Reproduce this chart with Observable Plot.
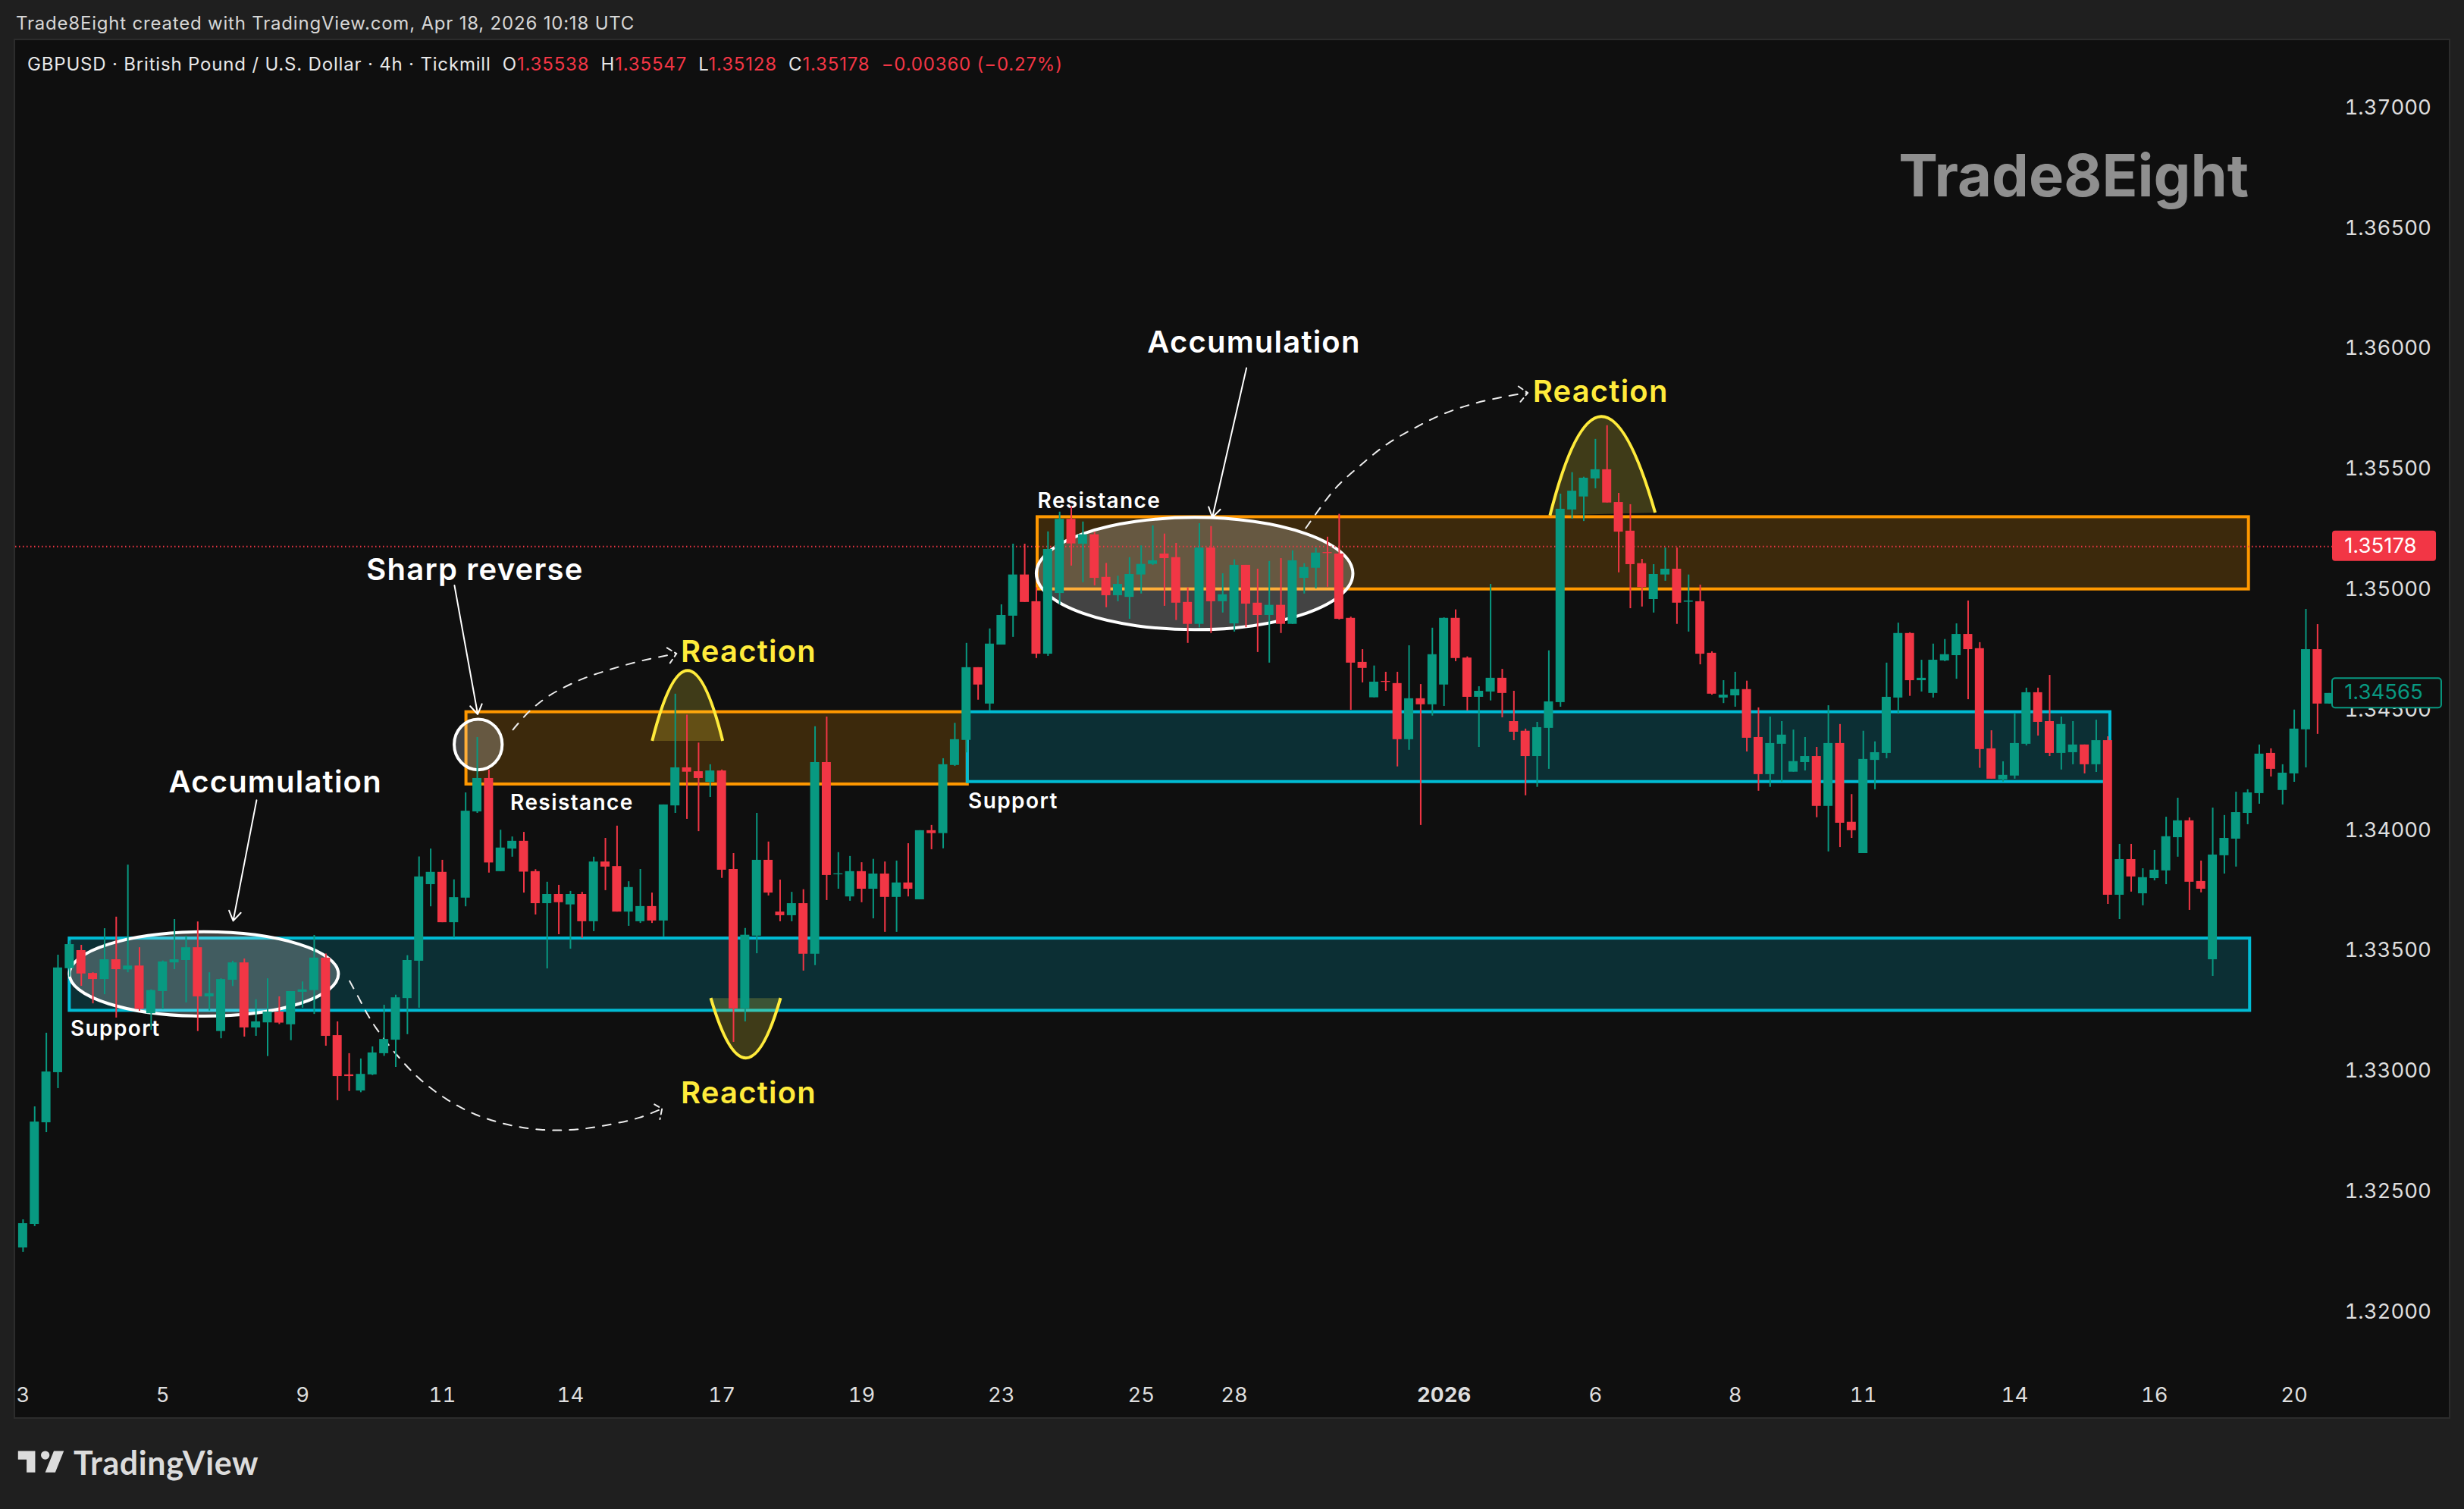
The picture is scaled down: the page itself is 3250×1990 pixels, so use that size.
<!DOCTYPE html>
<html>
<head>
<meta charset="utf-8">
<script src="https://cdn.jsdelivr.net/npm/d3@7"></script>
<script src="https://cdn.jsdelivr.net/npm/@observablehq/plot@0.6"></script>
<style>
  html, body { margin: 0; padding: 0; background: #1f1f1f; }
  #page { position: relative; width: 3250px; height: 1990px; overflow: hidden; background: #1f1f1f; font-family: Inter, "Noto Sans", sans-serif; }
  #attribution { position: absolute; left: 21px; top: 16px; font-size: 24px; letter-spacing: 0.8px; color: #d6d6d6; white-space: pre; }
  #chart { position: absolute; left: 20px; top: 53px; }
  #chart svg { display: block; outline: 2px solid #2c2c2c; }
  #legend { position: absolute; left: 36px; top: 70px; font-size: 24px; letter-spacing: 0.82px; color: #e8e8e8; white-space: pre; }
  #legend .r { color: #f23645; }
  #brand { position: absolute; left: 20px; top: 1902px; display: flex; align-items: center; color: #dcdcdc; }
  #brand span { font-family: Lato, Inter, sans-serif; font-weight: 700; font-size: 43px; letter-spacing: 0.6px; margin-left: 9px; line-height: 53px; }
  .spaced-big text { letter-spacing: 1.2px; }
  .spaced-small text { letter-spacing: 1.4px; }
</style>
</head>
<body>
<div id="page">
  <div id="attribution">Trade8Eight created with TradingView.com, Apr 18, 2026 10:18 UTC</div>
  <div id="chart"></div>
  <div id="legend">GBPUSD · British Pound / U.S. Dollar · 4h · Tickmill  O<span class="r">1.35538</span>  H<span class="r">1.35547</span>  L<span class="r">1.35128</span>  C<span class="r">1.35178</span>  <span class="r">−0.00360 (−0.27%)</span></div>
  <div id="brand">
    <svg width="68" height="53" viewBox="0 0 36 28"><path fill="#dcdcdc" d="M14 6H2v6h6v9h6V6Zm14 15h-7l6-15h7l-6 15Zm-7-9a3 3 0 1 0 0-6 3 3 0 0 0 0 6Z"/></svg>
    <span>TradingView</span>
  </div>
</div>
<script>
// ---- candle series (GBPUSD 4h), one entry per bar ----
const opens = [1.32265,1.32363,1.32785,1.32993,1.33425,1.33500,1.33405,1.33380,1.33462,1.33420,1.33436,1.33238,1.33330,1.33449,1.33459,1.33512,1.33308,1.33164,1.33377,1.33449,1.33179,1.33200,1.33245,1.33192,1.33327,1.33334,1.33469,1.33147,1.32984,1.32917,1.32984,1.33072,1.33128,1.33301,1.33456,1.33774,1.33825,1.33616,1.33718,1.34076,1.34215,1.33828,1.33922,1.33954,1.33828,1.33695,1.33733,1.33690,1.33733,1.33620,1.33868,1.33849,1.33660,1.33620,1.33683,1.33623,1.34101,1.34259,1.34243,1.34199,1.34246,1.33837,1.33258,1.33560,1.33875,1.33660,1.33645,1.33695,1.33485,1.34281,1.33815,1.33723,1.33828,1.33755,1.33818,1.33721,1.33781,1.33711,1.33998,1.33986,1.34269,1.34373,1.34675,1.34524,1.34769,1.34889,1.35060,1.34949,1.34731,1.34983,1.35291,1.35188,1.35227,1.35050,1.34974,1.34967,1.35060,1.35104,1.35147,1.35132,1.34946,1.34855,1.35172,1.34949,1.34857,1.35100,1.34943,1.34892,1.34934,1.34855,1.35046,1.35088,1.35153,1.35147,1.34880,1.34697,1.34550,1.34618,1.34609,1.34376,1.34546,1.34521,1.34603,1.34880,1.34715,1.34552,1.34574,1.34631,1.34451,1.34411,1.34306,1.34423,1.34530,1.35330,1.35384,1.35459,1.35497,1.35361,1.35242,1.35107,1.34958,1.35060,1.35084,1.34947,1.34949,1.34735,1.34549,1.34558,1.34584,1.34385,1.34231,1.34357,1.34241,1.34281,1.34306,1.34099,1.34360,1.34033,1.33903,1.34290,1.34319,1.34549,1.34817,1.34621,1.34568,1.34703,1.34725,1.34813,1.34754,1.34338,1.34209,1.34225,1.34357,1.34571,1.34451,1.34319,1.34322,1.34354,1.34272,1.34372,1.33730,1.33878,1.33736,1.33799,1.33831,1.33969,1.34039,1.33787,1.33462,1.33894,1.33963,1.34070,1.34152,1.34319,1.34165,1.34234,1.34417,1.34750,1.34524];
const highs = [1.32382,1.32851,1.33157,1.33481,1.33540,1.33522,1.33408,1.33591,1.33639,1.33855,1.33512,1.33337,1.33457,1.33629,1.33560,1.33619,1.33408,1.33383,1.33456,1.33465,1.33296,1.33383,1.33308,1.33330,1.33370,1.33563,1.33486,1.33204,1.33072,1.33050,1.33100,1.33273,1.33315,1.33479,1.33889,1.33922,1.33875,1.33794,1.34155,1.34385,1.34250,1.34000,1.33972,1.33991,1.33836,1.33784,1.33771,1.33746,1.33742,1.33888,1.33966,1.34017,1.33786,1.33837,1.33739,1.34105,1.34565,1.34478,1.34362,1.34272,1.34250,1.33903,1.33592,1.34070,1.33951,1.33793,1.33742,1.33753,1.34430,1.34470,1.33907,1.33891,1.33865,1.33879,1.33868,1.33872,1.33944,1.33998,1.34020,1.34297,1.34444,1.34776,1.34675,1.34836,1.34936,1.35188,1.35188,1.35007,1.35239,1.35321,1.35344,1.35280,1.35237,1.35108,1.35055,1.35132,1.35181,1.35264,1.35230,1.35191,1.35007,1.35273,1.35261,1.35065,1.35123,1.35100,1.35084,1.35116,1.35128,1.35160,1.35107,1.35172,1.35217,1.35312,1.34885,1.34750,1.34682,1.34656,1.34656,1.34766,1.34605,1.34839,1.34882,1.34915,1.34720,1.34596,1.35021,1.34668,1.34577,1.34420,1.34448,1.34745,1.35396,1.35485,1.35466,1.35623,1.35680,1.35399,1.35352,1.35125,1.35103,1.35172,1.35172,1.35060,1.35018,1.34741,1.34621,1.34656,1.34619,1.34508,1.34470,1.34451,1.34416,1.34385,1.34344,1.34517,1.34439,1.34148,1.34411,1.34367,1.34694,1.34860,1.34820,1.34706,1.34773,1.34792,1.34857,1.34952,1.34779,1.34413,1.34284,1.34483,1.34590,1.34590,1.34643,1.34470,1.34451,1.34354,1.34457,1.34388,1.33941,1.33941,1.33840,1.33916,1.34054,1.34133,1.34051,1.33872,1.34092,1.34061,1.34158,1.34168,1.34354,1.34338,1.34272,1.34499,1.34917,1.34854,1.34568];
const lows = [1.32247,1.32354,1.32744,1.32927,1.33390,1.33352,1.33279,1.33317,1.33220,1.33408,1.33248,1.33169,1.33255,1.33421,1.33283,1.33164,1.33249,1.33134,1.33351,1.33141,1.33144,1.33060,1.33193,1.33126,1.33261,1.33235,1.33103,1.32877,1.32915,1.32910,1.32981,1.33061,1.33015,1.33151,1.33261,1.33682,1.33616,1.33552,1.33682,1.34070,1.33822,1.33828,1.33888,1.33739,1.33648,1.33424,1.33566,1.33506,1.33551,1.33579,1.33749,1.33660,1.33601,1.33613,1.33613,1.33557,1.34070,1.34045,1.33994,1.34136,1.33800,1.33119,1.33204,1.33487,1.33727,1.33620,1.33620,1.33415,1.33438,1.33708,1.33755,1.33705,1.33699,1.33632,1.33576,1.33576,1.33723,1.33711,1.33919,1.33923,1.34265,1.34321,1.34540,1.34495,1.34769,1.34801,1.34946,1.34713,1.34722,1.34936,1.35097,1.35028,1.35015,1.34924,1.34949,1.34876,1.34981,1.35100,1.34930,1.34871,1.34776,1.34840,1.34817,1.34902,1.34823,1.34841,1.34738,1.34694,1.34817,1.34855,1.34981,1.35002,1.35009,1.34873,1.34498,1.34612,1.34550,1.34577,1.34263,1.34332,1.34020,1.34474,1.34514,1.34700,1.34495,1.34344,1.34537,1.34467,1.34372,1.34143,1.34178,1.34253,1.34511,1.35292,1.35282,1.35418,1.35359,1.35069,1.34920,1.34927,1.34902,1.35034,1.34855,1.34823,1.34687,1.34561,1.34526,1.34511,1.34325,1.34162,1.34178,1.34200,1.34241,1.34246,1.34052,1.33910,1.33928,1.33966,1.33903,1.34168,1.34297,1.34482,1.34556,1.34574,1.34549,1.34700,1.34627,1.34542,1.34257,1.34212,1.34200,1.34212,1.34350,1.34391,1.34306,1.34250,1.34272,1.34234,1.34240,1.33692,1.33629,1.33743,1.33686,1.33790,1.33774,1.33888,1.33667,1.33740,1.33393,1.33818,1.33847,1.34023,1.34108,1.34221,1.34105,1.34199,1.34259,1.34398,1.34524];
const closes = [1.32366,1.32788,1.32996,1.33428,1.33525,1.33403,1.33380,1.33462,1.33421,1.33436,1.33256,1.33334,1.33453,1.33462,1.33512,1.33308,1.33321,1.33380,1.33449,1.33179,1.33204,1.33245,1.33199,1.33330,1.33337,1.33469,1.33144,1.32977,1.32977,1.32986,1.33075,1.33131,1.33304,1.33459,1.33806,1.33825,1.33616,1.33720,1.34079,1.34215,1.33864,1.33926,1.33954,1.33826,1.33695,1.33733,1.33699,1.33733,1.33620,1.33868,1.33847,1.33660,1.33762,1.33683,1.33623,1.34105,1.34259,1.34241,1.34215,1.34246,1.33834,1.33258,1.33564,1.33875,1.33739,1.33645,1.33695,1.33485,1.34281,1.33812,1.33819,1.33828,1.33755,1.33818,1.33721,1.33781,1.33755,1.33998,1.33986,1.34272,1.34376,1.34675,1.34603,1.34773,1.34892,1.35060,1.34946,1.34731,1.35166,1.35291,1.35189,1.35227,1.35046,1.34974,1.35021,1.35062,1.35104,1.35119,1.35128,1.34943,1.34855,1.35172,1.34949,1.34978,1.35100,1.34939,1.34892,1.34934,1.34855,1.35119,1.35091,1.35151,1.35149,1.34876,1.34694,1.34672,1.34615,1.34614,1.34376,1.34546,1.34521,1.34729,1.34880,1.34713,1.34552,1.34577,1.34631,1.34568,1.34407,1.34306,1.34426,1.34533,1.35333,1.35408,1.35462,1.35497,1.35359,1.35238,1.35103,1.35008,1.35062,1.35084,1.34943,1.34952,1.34731,1.34565,1.34561,1.34584,1.34382,1.34231,1.34360,1.34395,1.34285,1.34306,1.34099,1.34360,1.34029,1.33998,1.34294,1.34322,1.34552,1.34817,1.34621,1.34631,1.34706,1.34729,1.34813,1.34750,1.34335,1.34212,1.34228,1.34360,1.34571,1.34448,1.34319,1.34439,1.34354,1.34272,1.34372,1.33730,1.33878,1.33806,1.33803,1.33834,1.33973,1.34039,1.33784,1.33755,1.33897,1.33966,1.34073,1.34155,1.34316,1.34253,1.34237,1.34420,1.34750,1.34524,1.34568];

// ---- axes ----
const priceTicks = [1.32,1.325,1.33,1.335,1.34,1.345,1.35,1.355,1.36,1.365,1.37];
const dateBars = [0,12,24,36,47,60,72,84,96,104,135,147,158,171,183,195];
const dateLabels = ["3","5","9","11","14","17","19","23","25","28","6","8","11","14","16","20"];
const yearBar = 122, yearLabel = "2026";

// ---- zones (bar index, price) ----
const zoneStart = [38.06,87.1,4,81.1];
const zoneEnd = [81.1,191.1,191.2,179.2];
const zoneTop = [1.3449,1.353,1.3355,1.3449];
const zoneBottom = [1.3419,1.35,1.3325,1.342];
const zoneColor = ["#ff9800","#ff9800","#00bcd4","#00bcd4"];

// ---- ovals (bar index, price) ----
const ovalBar = [15.56,100.62,39.11];
const ovalPrice = [1.33401,1.35064,1.34354];
const ovalBarRadius = [11.55,13.59,2.06];
const ovalPriceRadius = [0.00175,0.00233,0.00105];

// ---- reaction arcs: start, control, end ----
const arcBars = [[54.05,57.10,60.10],[131.13,135.40,140.16],[59.08,62.10,65.07]];
const arcPrices = [[1.34369,1.34953,1.34369],[1.35305,1.36122,1.35317],[1.33301,1.32803,1.33301]];

// ---- dashed paths and their open heads ----
const pathBars = [
  [28.04,28.86,29.56,30.34,32.08,34.07,36.35,38.85,41.62,44.44,47.31,50.13,52.91,54.86],
  [42.06,43.44,45.13,47.74,50.34,53.17,56.10],
  [110.13,110.95,112.69,114.82,117.05,119.55,122.03,124.77,127.52,129.19]
];
const pathPrices = [
  [1.33373,1.33300,1.33236,1.33176,1.33067,1.32966,1.32883,1.32819,1.32777,1.32756,1.32756,1.32775,1.32806,1.32843],
  [1.34417,1.34492,1.34557,1.34622,1.34666,1.34704,1.34733],
  [1.35254,1.35310,1.35420,1.35515,1.35601,1.35672,1.35730,1.35774,1.35803,1.35816]
];
const headBars = [[54.21,54.86,54.68],[55.29,56.10,55.55],[128.39,129.19,128.56]];
const headPrices = [[1.32861,1.32843,1.32799],[1.34757,1.34733,1.34694],[1.35843,1.35816,1.35779]];

// ---- straight pointers ----
const pointerFromBar = [20.05,37.04,105.04];
const pointerFromPrice = [1.34124,1.35016,1.35919];
const pointerToBar = [18.04,39.04,102.11];
const pointerToPrice = [1.33623,1.34481,1.35299];

// ---- texts (bar index, price) ----
const bigTexts = ["Accumulation","Sharp reverse","Accumulation"];
const bigBars = [21.66,38.80,105.68];
const bigPrices = [1.34197,1.35078,1.36024];
const reactionTexts = ["Reaction","Reaction","Reaction"];
const reactionBars = [62.30,62.30,135.44];
const reactionPrices = [1.34740,1.32905,1.35820];
const smallTexts = ["Resistance","Resistance","Support","Support"];
const smallBars = [47.13,92.40,7.93,85.01];
const smallPrices = [1.34111,1.35366,1.33173,1.34118];

const lastPrice = 1.35178, currentPrice = 1.34565;
const GREEN = "#089981", RED = "#f23645";

const bars = opens.map((o, i) => ({i, o, h: highs[i], l: lows[i], c: closes[i], up: closes[i] >= o}));
const zones = zoneStart.map((s, k) => ({s, e: zoneEnd[k], t: zoneTop[k], b: zoneBottom[k], col: zoneColor[k]}));
const pathRows = pathBars.flatMap((xs, k) => xs.map((x, j) => ({k, x, y: pathPrices[k][j]})));
const headRows = headBars.flatMap((xs, k) => xs.map((x, j) => ({k, x, y: headPrices[k][j]})));
const pointers = pointerFromBar.map((x1, k) => ({x1, y1: pointerFromPrice[k], x2: pointerToBar[k], y2: pointerToPrice[k]}));

// Ovals and arcs are annotation shapes with no Plot primitive, placed through the plot's own scales.
function shapes(index, {x, y}) {
  const g = d3.create("svg:g");
  ovalBar.forEach((b, k) => {
    g.append("ellipse")
      .attr("cx", x(b)).attr("cy", y(ovalPrice[k]))
      .attr("rx", x(b + ovalBarRadius[k]) - x(b))
      .attr("ry", y(ovalPrice[k] - ovalPriceRadius[k]) - y(ovalPrice[k]))
      .attr("fill", "rgba(255,255,255,0.22)").attr("stroke", "#ffffff").attr("stroke-width", 4);
  });
  arcBars.forEach((bs, k) => {
    const ps = arcPrices[k];
    const d = `M${x(bs[0])},${y(ps[0])}Q${x(bs[1])},${y(ps[1])} ${x(bs[2])},${y(ps[2])}`;
    g.append("path").attr("d", d + "Z").attr("fill", "rgba(255,235,59,0.2)").attr("stroke", "none");
    g.append("path").attr("d", d).attr("fill", "none").attr("stroke", "#ffeb3b").attr("stroke-width", 4);
  });
  return g.node();
}

const W = 3210, H = 1816;
const chart = Plot.plot({
  width: W, height: H,
  marginLeft: 0, marginRight: 154, marginTop: 0, marginBottom: 60,
  x: {type: "linear", domain: [-0.644, 198.28]},
  y: {type: "linear", domain: [1.31749, 1.37279]},
  style: {background: "#0f0f0f", color: "#dedede", fontFamily: "Inter, sans-serif", overflow: "visible"},
  marks: [
    Plot.rect(zones, {x1: "s", x2: "e", y1: "b", y2: "t", fill: "col", fillOpacity: 0.19, stroke: "col", strokeWidth: 4}),
    shapes,
    Plot.line(pathRows, {x: "x", y: "y", z: "k", curve: "catmull-rom", stroke: "#eeeeee", strokeWidth: 2, strokeDasharray: "11 11"}),
    Plot.line(headRows, {x: "x", y: "y", z: "k", stroke: "#eeeeee", strokeWidth: 2, strokeDasharray: "7 5"}),
    Plot.arrow(pointers, {x1: "x1", y1: "y1", x2: "x2", y2: "y2", stroke: "#ffffff", strokeWidth: 2, headLength: 11, headAngle: 65}),
    Plot.ruleY([lastPrice], {stroke: RED, strokeWidth: 2, strokeDasharray: "1.5 3.5"}),
    Plot.text(bigTexts, {x: (d, k) => bigBars[k], y: (d, k) => bigPrices[k], text: d => d, fill: "#ffffff", fontSize: 40, fontWeight: 600, className: "spaced-big"}),
    Plot.text(reactionTexts, {x: (d, k) => reactionBars[k], y: (d, k) => reactionPrices[k], text: d => d, fill: "#ffeb3b", fontSize: 40, fontWeight: 600, className: "spaced-big"}),
    Plot.text(smallTexts, {x: (d, k) => smallBars[k], y: (d, k) => smallPrices[k], text: d => d, fill: "#ffffff", fontSize: 28, fontWeight: 600, className: "spaced-small"}),
    Plot.text(["Trade8Eight"], {x: 191.1, y: 1.36711, text: d => d, textAnchor: "end", fill: "#8f8f8f", fontSize: 77.5, fontWeight: 700}),
    Plot.ruleX(bars.filter(d => d.up), {x: "i", y1: "l", y2: "h", stroke: GREEN, strokeWidth: 2}),
    Plot.ruleX(bars.filter(d => !d.up), {x: "i", y1: "l", y2: "h", stroke: RED, strokeWidth: 2}),
    Plot.rect(bars.filter(d => d.up), {x1: d => d.i - 0.39, x2: d => d.i + 0.39, y1: "o", y2: "c", fill: GREEN}),
    Plot.rect(bars.filter(d => !d.up), {x1: d => d.i - 0.39, x2: d => d.i + 0.39, y1: "o", y2: "c", fill: RED}),
    Plot.axisY({anchor: "right", ticks: priceTicks, tickSize: 0, tickPadding: 16, tickFormat: d => d.toFixed(5), fontSize: 27.5, label: null}),
    Plot.axisX({ticks: dateBars, tickSize: 0, tickPadding: 20, tickFormat: d => dateLabels[dateBars.indexOf(d)], fontSize: 27.5, label: null}),
    Plot.axisX({ticks: [yearBar], tickSize: 0, tickPadding: 20, tickFormat: () => yearLabel, fontSize: 27.5, fontWeight: 700, label: null}),
    Plot.rect([lastPrice], {x1: 198.28, x2: 207.2, y1: 1.35116, y2: 1.35242, fill: RED, rx: 4}),
    Plot.rect([currentPrice], {x1: 198.28, x2: 207.65, y1: 1.34507, y2: 1.34630, fill: "#0f0f0f", stroke: GREEN, strokeWidth: 2, rx: 4}),
    Plot.text([lastPrice], {x: 199.3, y: d => d, text: d => d.toFixed(5), textAnchor: "start", fill: "#ffffff", fontSize: 27.5}),
    Plot.text([currentPrice], {x: 199.3, y: 1.34571, text: d => d.toFixed(5), textAnchor: "start", fill: GREEN, fontSize: 27.5})
  ]
});
document.getElementById("chart").appendChild(chart);
</script>
</body>
</html>
